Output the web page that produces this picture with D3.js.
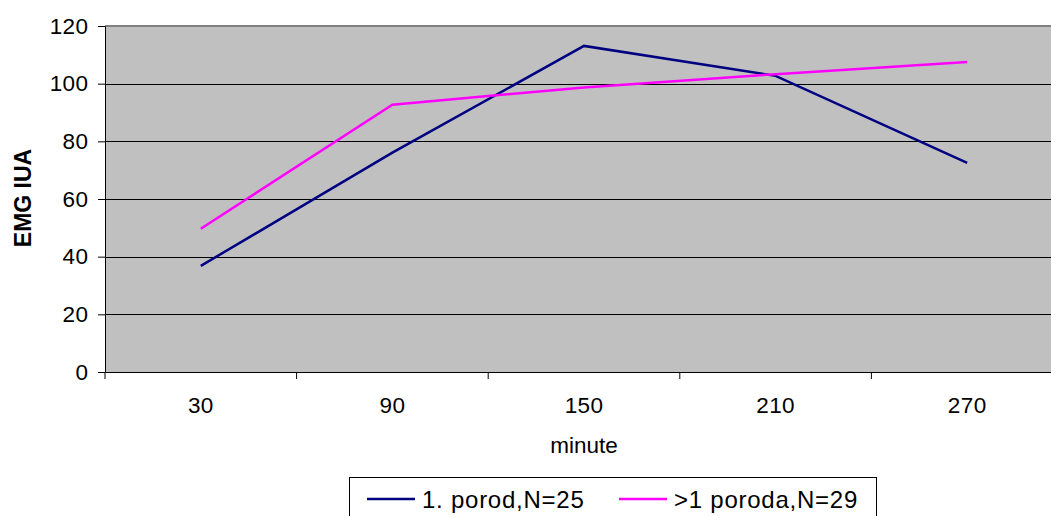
<!DOCTYPE html>
<html><head><meta charset="utf-8">
<script src="https://cdn.jsdelivr.net/npm/d3@7"></script>
<style>
body{margin:0;background:#fff;}
svg{display:block;font-family:"Liberation Sans",Arial,sans-serif;}
</style></head>
<body>
<svg id="chart" width="1051" height="516"></svg>
<script>
const categories = ["30","90","150","210","270"];
const series1Name = "1. porod,N=25";
const series1 = [36.8, 76.1, 113.1, 102.7, 72.5];
const series2Name = ">1 poroda,N=29";
const series2 = [49.7, 92.7, 98.7, 103.3, 107.5];
const yTicks = [0, 20, 40, 60, 80, 100, 120];
const xTitle = "minute";
const yTitle = "EMG IUA";

(function(){
const svg = d3.select("#chart");
const FF = "Liberation Sans, Arial, sans-serif";
const pL = 105, pT = 26, pB = 372, pR = 1063;
const x = d3.scaleBand().domain(categories).range([pL, pR]);
const y = d3.scaleLinear().domain([0, 120]).range([pB, pT]);

svg.append("rect").attr("x", pL).attr("y", pT)
  .attr("width", pR - pL).attr("height", pB - pT).attr("fill", "#c0c0c0");

svg.append("g").selectAll("line").data(yTicks.filter(d => d > 0 && d < 120)).join("line")
  .attr("x1", pL).attr("x2", pR)
  .attr("y1", d => Math.round(y(d)) + 0.5).attr("y2", d => Math.round(y(d)) + 0.5)
  .attr("stroke", "#000").attr("stroke-width", 1);
svg.append("line").attr("x1", pL).attr("x2", pR).attr("y1", pT).attr("y2", pT)
  .attr("stroke", "#808080").attr("stroke-width", 2);

const yAxis = svg.append("g").attr("transform", `translate(${pL},0)`)
  .call(d3.axisLeft(y).tickValues(yTicks).tickSize(7).tickPadding(10));
yAxis.select(".domain").attr("stroke", "#000");
yAxis.selectAll("text").attr("font-size", 22.5).attr("fill", "#000").attr("font-family", FF)
  .attr("letter-spacing", 0.4).attr("dx", 0.4);

const xAxis = svg.append("g").attr("transform", `translate(0,${pB})`)
  .call(d3.axisBottom(x).tickSizeOuter(0).tickSize(0).tickPadding(25));
xAxis.select(".domain").attr("stroke", "#000");
xAxis.selectAll("text").attr("font-size", 22.5).attr("fill", "#000").attr("font-family", FF)
  .attr("letter-spacing", 0.4);
svg.append("g").selectAll("line").data(categories).join("line")
  .attr("x1", d => x(d)).attr("x2", d => x(d))
  .attr("y1", pB).attr("y2", pB + 7)
  .attr("stroke", "#000");

svg.append("text").attr("x", x("150") + x.bandwidth() / 2).attr("y", 452.5)
  .attr("text-anchor", "middle")
  .attr("font-size", 22.5).text(xTitle);
svg.append("text").attr("transform", "translate(23,198) rotate(-90)")
  .attr("text-anchor", "middle").attr("dominant-baseline", "central")
  .attr("font-size", 23).attr("font-weight", "bold").text(yTitle);

const line = d3.line().x((d, i) => x(categories[i]) + x.bandwidth() / 2).y(d => y(d));
svg.append("path").datum(series1).attr("d", line)
  .attr("fill", "none").attr("stroke", "#000080").attr("stroke-width", 2.5);
svg.append("path").datum(series2).attr("d", line)
  .attr("fill", "none").attr("stroke", "#ff00ff").attr("stroke-width", 2.5);

const lg = svg.append("g");
lg.append("rect").attr("x", 349.5).attr("y", 477.5).attr("width", 527).attr("height", 50)
  .attr("fill", "#fff").attr("stroke", "#000").attr("stroke-width", 1);
const items = [{n: series1Name, c: "#000080", x0: 367}, {n: series2Name, c: "#ff00ff", x0: 619}];
items.forEach(it => {
  lg.append("line").attr("x1", it.x0).attr("x2", it.x0 + 48).attr("y1", 499).attr("y2", 499)
    .attr("stroke", it.c).attr("stroke-width", 2.5);
  lg.append("text").attr("x", it.x0 + 55).attr("y", 507.5)
    .attr("font-size", 24).attr("letter-spacing", 0.75).text(it.n);
});
})();
</script>
</body></html>
